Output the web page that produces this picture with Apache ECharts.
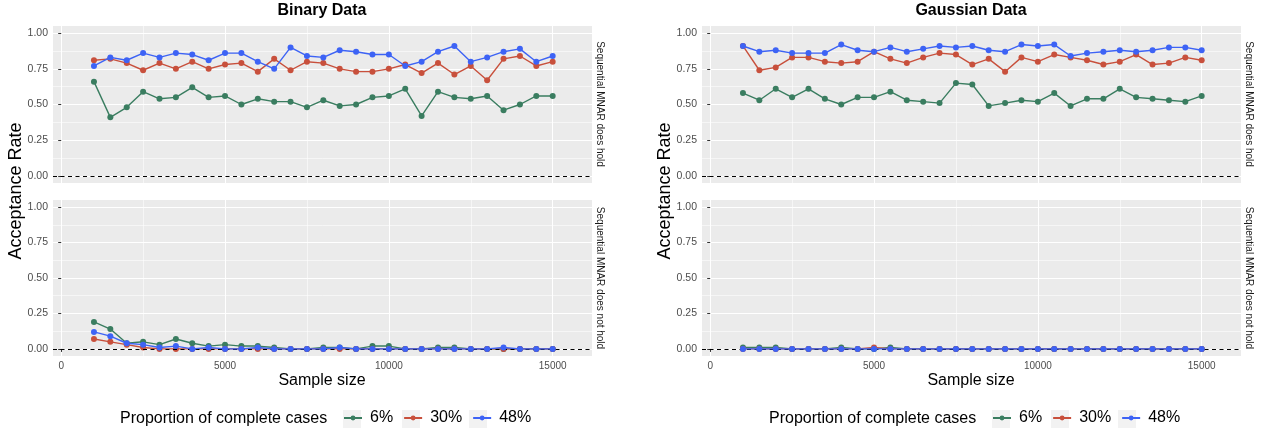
<!DOCTYPE html>
<html lang="en">
<head>
<meta charset="UTF-8">
<title>Acceptance Rate</title>
<script src="https://cdn.jsdelivr.net/npm/echarts@6/dist/echarts.min.js"></script>
<style>
  html, body { margin: 0; padding: 0; background: #fff; }
  #chart { width: 1266px; height: 436px; }
</style>
</head>
<body>
<div id="chart"></div>
<script>
// sample sizes on the x axis
const sampleSize = [1000, 1500, 2000, 2500, 3000, 3500, 4000, 4500, 5000, 5500,
  6000, 6500, 7000, 7500, 8000, 8500, 9000, 9500, 10000, 10500,
  11000, 11500, 12000, 12500, 13000, 13500, 14000, 14500, 15000];

const groups = ['6%', '30%', '48%'];

// Binary data, sequential MNAR does hold
const binaryHold6 = [0.66, 0.41, 0.48, 0.59, 0.54, 0.55, 0.62, 0.55, 0.56, 0.50, 0.54, 0.52, 0.52, 0.48, 0.53,
  0.49, 0.50, 0.55, 0.56, 0.61, 0.42, 0.59, 0.55, 0.54, 0.56, 0.46, 0.50, 0.56, 0.56];
const binaryHold30 = [0.81, 0.82, 0.79, 0.74, 0.79, 0.75, 0.80, 0.75, 0.78, 0.79, 0.73, 0.82, 0.74, 0.80, 0.79,
  0.75, 0.73, 0.73, 0.75, 0.78, 0.72, 0.79, 0.71, 0.77, 0.67, 0.82, 0.84, 0.77, 0.80];
const binaryHold48 = [0.77, 0.83, 0.81, 0.86, 0.83, 0.86, 0.85, 0.81, 0.86, 0.86, 0.80, 0.75, 0.90, 0.84, 0.83,
  0.88, 0.87, 0.85, 0.85, 0.77, 0.80, 0.87, 0.91, 0.80, 0.83, 0.87, 0.89, 0.80, 0.84];

// Binary data, sequential MNAR does not hold
const binaryNot6 = [0.19, 0.14, 0.04, 0.05, 0.03, 0.07, 0.04, 0.02, 0.03, 0.02, 0.02, 0.01, 0, 0, 0.01,
  0.01, 0, 0.02, 0.02, 0, 0, 0.01, 0.01, 0, 0, 0, 0, 0, 0];
const binaryNot30 = [0.07, 0.05, 0.03, 0.01, 0, 0, 0, 0, 0, 0, 0, 0, 0, 0, 0,
  0, 0, 0, 0, 0, 0, 0, 0, 0, 0, 0, 0, 0, 0];
const binaryNot48 = [0.12, 0.09, 0.04, 0.03, 0.01, 0.02, 0, 0.01, 0, 0, 0.01, 0, 0, 0, 0,
  0.01, 0, 0, 0, 0, 0, 0, 0, 0, 0, 0.01, 0, 0, 0];

// Gaussian data, sequential MNAR does hold
const gaussHold6 = [0.58, 0.53, 0.61, 0.55, 0.61, 0.54, 0.50, 0.55, 0.55, 0.59, 0.53, 0.52, 0.51, 0.65, 0.64,
  0.49, 0.51, 0.53, 0.52, 0.58, 0.49, 0.54, 0.54, 0.61, 0.55, 0.54, 0.53, 0.52, 0.56];
const gaussHold30 = [0.91, 0.74, 0.76, 0.83, 0.83, 0.80, 0.79, 0.80, 0.87, 0.82, 0.79, 0.83, 0.86, 0.85, 0.78,
  0.82, 0.73, 0.83, 0.80, 0.85, 0.83, 0.81, 0.78, 0.80, 0.85, 0.78, 0.79, 0.83, 0.81];
const gaussHold48 = [0.91, 0.87, 0.88, 0.86, 0.86, 0.86, 0.92, 0.88, 0.87, 0.90, 0.87, 0.89, 0.91, 0.90, 0.91,
  0.88, 0.87, 0.92, 0.91, 0.92, 0.84, 0.86, 0.87, 0.88, 0.87, 0.88, 0.90, 0.90, 0.88];

// Gaussian data, sequential MNAR does not hold
const gaussNot6 = [0.01, 0.01, 0.01, 0, 0, 0, 0.01, 0, 0, 0.01, 0, 0, 0, 0, 0,
  0, 0, 0, 0, 0, 0, 0, 0, 0, 0, 0, 0, 0, 0];
const gaussNot30 = [0, 0, 0, 0, 0, 0, 0, 0, 0.01, 0, 0, 0, 0, 0, 0,
  0, 0, 0, 0, 0, 0, 0, 0, 0, 0, 0, 0, 0, 0];
const gaussNot48 = [0, 0, 0, 0, 0, 0, 0, 0, 0, 0, 0, 0, 0, 0, 0,
  0, 0, 0, 0, 0, 0, 0, 0, 0, 0, 0, 0, 0, 0];

const yTicks = [0, 0.25, 0.5, 0.75, 1];
const yMinor = [0.125, 0.375, 0.625, 0.875];
const xTicks = [0, 5000, 10000, 15000];
const xMinor = [2500, 7500, 12500];

const colors = ['#3A7D60', '#C8503C', '#3D63F5'];
const FONT = 'Liberation Sans, Arial, sans-serif';

const panels = [
  { data: [binaryHold6, binaryHold30, binaryHold48], bottom: false },
  { data: [binaryNot6, binaryNot30, binaryNot48], bottom: true },
  { data: [gaussHold6, gaussHold30, gaussHold48], bottom: false },
  { data: [gaussNot6, gaussNot30, gaussNot48], bottom: true }
];

const grids = [
  { left: 53, top: 26, width: 539, height: 157 },
  { left: 53, top: 200, width: 539, height: 156 },
  { left: 702, top: 26, width: 539, height: 157 },
  { left: 702, top: 200, width: 539, height: 156 }
].map(g => Object.assign(g, { show: true, backgroundColor: '#EBEBEB', borderWidth: 0 }));

const xAxes = [];
const yAxes = [];
const series = [];

panels.forEach((p, i) => {
  // major axis: labels, ticks, major grid
  xAxes.push({
    type: 'value', gridIndex: i, min: -250, max: 16200,
    axisLine: { show: false },
    axisTick: { show: p.bottom, length: 3, customValues: xTicks, lineStyle: { color: '#333' } },
    axisLabel: { show: p.bottom, customValues: xTicks, color: '#4D4D4D', fontSize: 10, fontFamily: FONT, margin: 5,
      formatter: v => String(v) },
    splitLine: { show: true, lineStyle: { color: '#fff', width: 1.1 } }
  });
  // minor grid lines
  xAxes.push({
    type: 'value', gridIndex: i, min: -250, max: 16200,
    axisLine: { show: false },
    axisTick: { show: false, customValues: xMinor },
    axisLabel: { show: false, customValues: xMinor },
    splitLine: { show: true, lineStyle: { color: '#fff', width: 0.55 } }
  });
  yAxes.push({
    type: 'value', gridIndex: i, min: -0.05, max: 1.05,
    axisLine: { show: false },
    axisTick: { show: true, length: 3, customValues: yTicks, lineStyle: { color: '#333' } },
    axisLabel: { customValues: yTicks, color: '#4D4D4D', fontSize: 10.5, fontFamily: FONT, margin: 5,
      formatter: v => v.toFixed(2) },
    splitLine: { show: true, lineStyle: { color: '#fff', width: 1.1 } }
  });
  yAxes.push({
    type: 'value', gridIndex: i, min: -0.05, max: 1.05,
    axisLine: { show: false },
    axisTick: { show: false, customValues: yMinor },
    axisLabel: { show: false, customValues: yMinor },
    splitLine: { show: true, lineStyle: { color: '#fff', width: 0.55 } }
  });

  p.data.forEach((vals, k) => {
    const s = {
      name: groups[k],
      type: 'line',
      xAxisIndex: 2 * i,
      yAxisIndex: 2 * i,
      data: sampleSize.map((x, j) => [x, vals[j]]),
      symbol: 'circle',
      symbolSize: 6,
      showSymbol: true,
      clip: false,
      color: colors[k],
      lineStyle: { width: 1.4, color: colors[k] },
      itemStyle: { color: colors[k] },
      emphasis: { disabled: true },
      z: 3 + k
    };
    if (k === 0) {
      s.markLine = {
        silent: true,
        symbol: ['none', 'none'],
        label: { show: false },
        lineStyle: { color: '#000', type: [4, 3.5], width: 1.2 },
        data: [{ yAxis: 0 }]
      };
    }
    series.push(s);
  });
});

function txt(x, y, text, size, extra) {
  return {
    type: 'text', x: x, y: y,
    style: Object.assign({ text: text, fill: '#000', fontSize: size, fontFamily: FONT,
      align: 'center', verticalAlign: 'middle' }, extra || {})
  };
}

const graphics = [];
[0, 649].forEach(dx => {
  graphics.push(txt(322 + dx, 11, dx ? 'Gaussian Data' : 'Binary Data', 16, { fontWeight: 'bold' }));
  graphics.push(Object.assign(txt(16 + dx, 191, 'Acceptance Rate', 18), { rotation: Math.PI / 2 }));
  graphics.push(txt(322 + dx, 381, 'Sample size', 16));
  graphics.push(Object.assign(txt(600 + dx, 104, 'Sequential MNAR does hold', 10, { fill: '#1A1A1A' }), { rotation: -Math.PI / 2 }));
  graphics.push(Object.assign(txt(600 + dx, 278, 'Sequential MNAR does not hold', 10, { fill: '#1A1A1A' }), { rotation: -Math.PI / 2 }));
  graphics.push(txt(120 + dx, 419, 'Proportion of complete cases', 16, { align: 'left' }));
  // grey legend key boxes
  [343, 402, 469].forEach(kx => {
    graphics.push({ type: 'rect', shape: { x: kx + dx, y: 410, width: 18, height: 18 }, style: { fill: '#F2F2F2' }, z: -1 });
  });
});

const legendBase = {
  data: groups,
  top: 410,
  padding: 0,
  itemWidth: 18,
  itemHeight: 6,
  itemGap: 10,
  selectedMode: false,
  textStyle: { fontSize: 16, fontFamily: FONT, color: '#000', padding: [0, 0, 0, 3] }
};

const chart = echarts.init(document.getElementById('chart'));
chart.setOption({
  animation: false,
  grid: grids,
  xAxis: xAxes,
  yAxis: yAxes,
  series: series,
  legend: [
    Object.assign({}, legendBase, { left: 343 }),
    Object.assign({}, legendBase, { left: 992 })
  ],
  graphic: graphics
});
</script>
</body>
</html>
